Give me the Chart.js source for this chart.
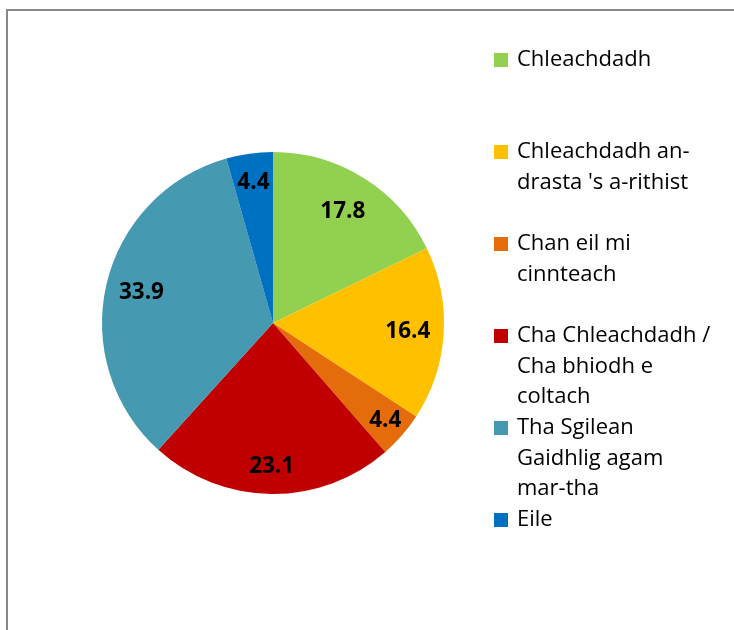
<!DOCTYPE html>
<html>
<head>
<meta charset="utf-8">
<script src="https://cdn.jsdelivr.net/npm/chart.js@4/dist/chart.umd.min.js"></script>
<style>
  html, body { margin: 0; padding: 0; background: #fff; }
  #wrap { position: relative; width: 734px; height: 630px; overflow: hidden; }
  #frame {
    position: absolute; left: 6px; top: 9px; width: 800px; height: 700px;
    border: 2px solid #888; box-sizing: border-box;
  }
  canvas { position: absolute; left: 0; top: 0; }
</style>
</head>
<body>
<div id="wrap">
  <div id="frame"></div>
  <canvas id="pie" width="734" height="630"></canvas>
</div>
<script>
const categories = [
  ["Chleachdadh"],
  ["Chleachdadh an-", "drasta 's a-rithist"],
  ["Chan eil mi", "cinnteach"],
  ["Cha Chleachdadh /", "Cha bhiodh e", "coltach"],
  ["Tha Sgilean", "Gaidhlig agam", "mar-tha"],
  ["Eile"],
]
const values = [17.8, 16.4, 4.4, 23.1, 33.9, 4.4]
const sliceColors = ["#92D050", "#FFC000", "#E46C0A", "#C00000", "#4599B0", "#0070C0"]

// how far out (fraction of radius) each value label sits, like excel's best fit
const labelRadius = [0.77, 0.79, 0.87, 0.84, 0.79, 0.83]

const FONT = "'Open Sans', 'Noto Sans', sans-serif"

const sliceLabels = {
  id: "sliceLabels",
  afterDatasetsDraw(chart) {
    const ctx = chart.ctx
    const arcs = chart.getDatasetMeta(0).data
    ctx.save()
    ctx.font = "bold 22.5px " + FONT
    ctx.fillStyle = "#000"
    ctx.textAlign = "center"
    ctx.textBaseline = "middle"
    arcs.forEach((arc, i) => {
      const p = arc.getProps(["x", "y", "startAngle", "endAngle", "outerRadius"], true)
      const mid = (p.startAngle + p.endAngle) / 2
      const r = p.outerRadius * labelRadius[i]
      ctx.fillText(values[i].toFixed(1), p.x + Math.cos(mid) * r, p.y + Math.sin(mid) * r)
    })
    ctx.restore()
  },
}

// excel style legend: one slot per entry, wrapped lines
const sideLegend = {
  id: "sideLegend",
  afterDraw(chart) {
    const ctx = chart.ctx
    ctx.save()
    ctx.font = "22px " + FONT
    ctx.textBaseline = "middle"
    ctx.textAlign = "left"
    categories.forEach((lines, i) => {
      const y0 = 60 + 92 * i
      ctx.fillStyle = sliceColors[i]
      ctx.fillRect(494, y0 - 7, 14, 14)
      ctx.fillStyle = "#000"
      lines.forEach((line, j) => {
        ctx.fillText(line, 517, y0 + 30.6 * j)
      })
    })
    ctx.restore()
  },
}

new Chart(document.getElementById("pie").getContext("2d"), {
  type: "pie",
  data: {
    labels: categories,
    datasets: [
      {
        data: values,
        backgroundColor: sliceColors,
        borderWidth: 0,
      },
    ],
  },
  options: {
    responsive: false,
    animation: false,
    layout: {
      padding: { left: 102, right: 290, top: 152, bottom: 136 },
    },
    plugins: {
      legend: { display: false },
      tooltip: { enabled: false },
    },
  },
  plugins: [sliceLabels, sideLegend],
})
</script>
</body>
</html>
